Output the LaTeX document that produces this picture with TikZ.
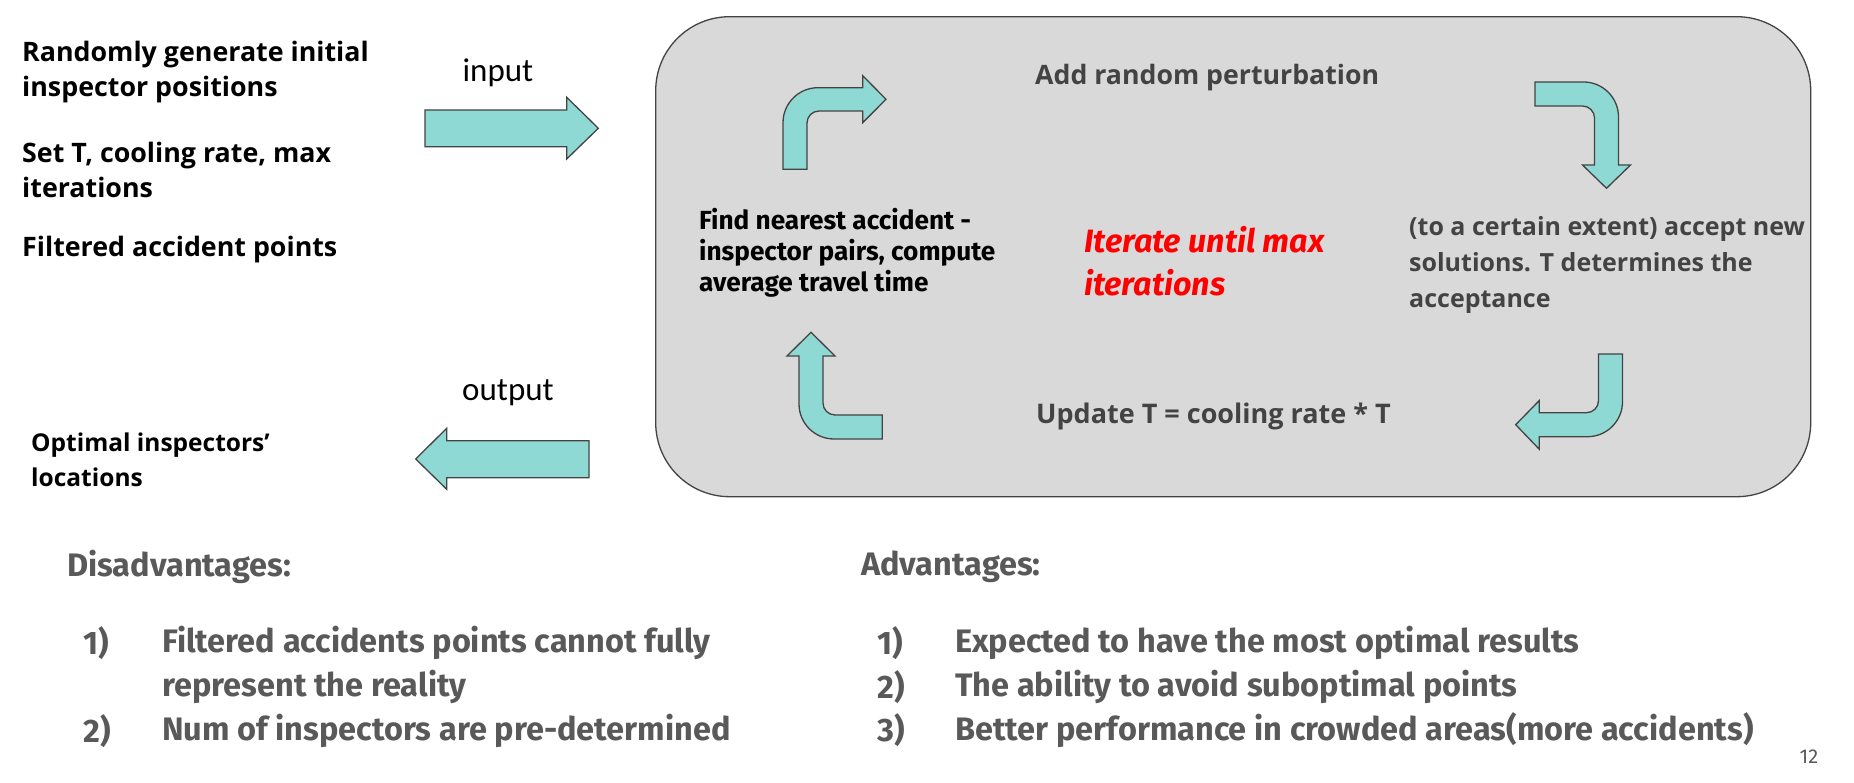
\documentclass[tikz,border=0pt]{standalone}
\usepackage{fontspec}
\setmainfont{Open Sans}
\newfontfamily\fira{Fira Sans}
\newfontfamily\carl{Carlito}
\definecolor{arrowfill}{HTML}{8ED9D3}
\definecolor{edgegray}{HTML}{434343}
\definecolor{boxfill}{HTML}{D9D9D9}
\definecolor{txtgray}{HTML}{434343}
\definecolor{lowgray}{HTML}{595959}
\tikzset{
  shapearrow/.style={fill=arrowfill, draw=edgegray, line width=1.3pt, line join=miter},
  lefttext/.style={anchor=west, inner sep=0pt, align=left, font=\bfseries\fontsize{26.8}{35}\selectfont},
  iolabel/.style={inner sep=0pt, font=\carl\fontsize{33}{36}\selectfont},
  boxtext/.style={anchor=west, inner sep=0pt, align=left, text=txtgray, font=\bfseries\fontsize{25}{36}\selectfont},
  findtext/.style={anchor=west, inner sep=0pt, align=left, font=\fira\bfseries\fontsize{26.2}{31}\selectfont},
  redtext/.style={anchor=west, inner sep=0pt, align=left, text=red, font=\fira\bfseries\itshape\fontsize{32.3}{43}\selectfont},
  lowtext/.style={anchor=west, inner sep=0pt, text=lowgray, font=\fira\bfseries\fontsize{32.5}{44}\selectfont},
}
\begin{document}
\begin{tikzpicture}[x=1pt, y=1pt]
\useasboundingbox (0,0) rectangle (1854,783);
% main loop box
\node[draw=edgegray, fill=boxfill, line width=1.3pt, rounded corners=74pt,
      minimum width=1155pt, minimum height=480pt, inner sep=0pt] (loop) at (1233.2,526.3) {};

% input arrow
\draw[shapearrow] (425,636.3) -- (425,673) -- (566.7,673) -- (566.7,685.7) -- (598.3,654.7)
  -- (566.7,624) -- (566.7,636.3) -- cycle;
% output arrow
\draw[shapearrow] (589,305.3) -- (589,342.3) -- (446.7,342.3) -- (446.7,354.7) -- (415.7,324)
  -- (446.7,293.7) -- (446.7,305.3) -- cycle;

% bent arrow: up then right
\draw[shapearrow] (783,613.7) -- (783,660.3) arc[start angle=180, end angle=90, radius=35]
  -- (862.7,695.3) -- (862.7,707.3) -- (886,683.7) -- (862.7,660.3) -- (862.7,672)
  -- (819,672) arc[start angle=90, end angle=180, radius=12] -- (807,613.7) -- cycle;
% bent arrow: right then down
\draw[shapearrow] (1535,701) -- (1583.5,701) arc[start angle=90, end angle=0, radius=35]
  -- (1618.5,618) -- (1630.5,618) -- (1606.5,594.7) -- (1582.5,618) -- (1594.5,618)
  -- (1594.5,665) arc[start angle=0, end angle=90, radius=12] -- (1535,677) -- cycle;
% bent arrow: down then left
\draw[shapearrow] (1598.5,429) -- (1622.5,429) -- (1622.5,381.3) arc[start angle=0, end angle=-90, radius=35]
  -- (1539.3,346.3) -- (1539.3,333.7) -- (1515.7,358.3) -- (1539.3,382.5) -- (1539.3,370.3)
  -- (1586.5,370.3) arc[start angle=-90, end angle=0, radius=12] -- cycle;
% bent arrow: left then up
\draw[shapearrow] (882.3,344) -- (834,344) arc[start angle=270, end angle=180, radius=35]
  -- (799,427) -- (787,427) -- (811,450.7) -- (835,427) -- (823,427)
  -- (823,380) arc[start angle=180, end angle=270, radius=12] -- (882.3,368) -- cycle;

% left texts
\node[lefttext] (init) at (22,710.5) {Randomly generate initial\\inspector positions};
\node[lefttext] (params) at (22,613.5) {Set T, cooling rate, max\\iterations};
\node[lefttext] (points) at (22,533) {Filtered accident points};
\node[lefttext, font=\bfseries\fontsize{24.5}{35}\selectfont] (result) at (31,323) {Optimal inspectors’\\locations};

\node[iolabel] (inlab) at (498,710) {input};
\node[iolabel] (outlab) at (508,390) {output};

% loop texts
\node[boxtext, font=\bfseries\fontsize{26.7}{36}\selectfont] (perturb) at (1035,705) {Add random perturbation};
\node[findtext] (findtxt) at (699,530) {Find nearest accident -\\inspector pairs, compute\\average travel time};
\node[redtext] (iter) at (1084,521.5) {Iterate until max\\iterations};
\node[boxtext] (accept) at (1409,518) {(to a certain extent) accept new\\solutions. T determines the\\acceptance};
\node[boxtext, font=\bfseries\fontsize{27}{36}\selectfont] (update) at (1036,367) {Update T = cooling rate * T};

% bottom texts
\node[lowtext] (dis) at (67,216) {Disadvantages:};
\node[lowtext] (d1n) at (83,140) {1)};
\node[lowtext] (d1) at (162,140) {Filtered accidents points cannot fully};
\node[lowtext] (d1b) at (162,96) {represent the reality};
\node[lowtext] (d2n) at (83,52) {2)};
\node[lowtext] (d2) at (162,52) {Num of inspectors are pre-determined};

\node[lowtext] (adv) at (861,216) {Advantages:};
\node[lowtext] (a1n) at (877,140) {1)};
\node[lowtext] (a1) at (955,140) {Expected to have the most optimal results};
\node[lowtext] (a2n) at (877,96) {2)};
\node[lowtext] (a2) at (955,96) {The ability to avoid suboptimal points};
\node[lowtext] (a3n) at (877,53) {3)};
\node[lowtext] (a3) at (955,53) {Better performance in crowded areas(more accidents)};

\node[inner sep=0pt, text=lowgray, font=\fira\fontsize{20}{24}\selectfont] (page) at (1809,26) {12};
\end{tikzpicture}
\end{document}
